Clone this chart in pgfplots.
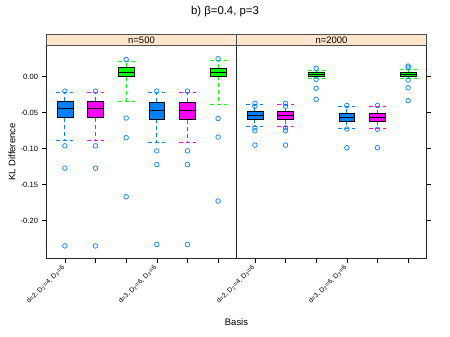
\documentclass[border=0pt]{standalone}
\usepackage{fontspec}
\setmainfont{Liberation Sans}
\usepackage{pgfplots}
\pgfplotsset{compat=1.18}
\usepgfplotslibrary{statistics}
\definecolor{cblue}{HTML}{0080FF}
\definecolor{cmag}{HTML}{FF00FF}
\definecolor{cgreen}{HTML}{00FF00}
\definecolor{outl}{HTML}{0080FF}
\definecolor{stripc}{HTML}{FFE5CC}

\tikzset{strip/.style={fill=stripc, draw=black!70, line width=0.7bp}}
\pgfplotsset{
  kbox/.style={draw=black, fill=#1, line width=0.7bp,
    mark=o, mark size=2.3bp, mark options={draw=outl, fill=none, solid, line width=0.7bp},
    boxplot/draw direction=y,
    boxplot/box extend=0.52, boxplot/whisker extend=0.56,
    boxplot/every whisker/.style={draw=#1, fill=none, dash pattern=on 4bp off 3bp, line width=0.8bp},
    boxplot/every median/.style={draw=black, line width=1bp}},
  panel/.style={anchor=south west, scale only axis, width=190bp, height=212.6bp,
    xmin=0.4, xmax=6.6, ymin=-0.2522, ymax=0.0431,
    xtick={1,2,3,4,5,6},
    xticklabels={{d=2, D\textsubscript{2}=4, D\textsubscript{3}=6},,,{d=3, D\textsubscript{2}=6, D\textsubscript{3}=6},,},
    x tick label style={font=\fontsize{6.8}{7}\selectfont, rotate=45, anchor=east, yshift=-1.5bp},
    ytick={-0.2,-0.15,-0.1,-0.05,0},
    y tick label style={font=\fontsize{7.6}{9}\selectfont},
    xtick pos=bottom, tick align=outside, major tick length=5bp,
    tick style={black, line width=0.6bp},
    axis line style={black!85, line width=0.8bp},
    clip=false},
}

\begin{document}
\begin{tikzpicture}
\path[use as bounding box] (0,0) rectangle (450bp,-337bp);

\begin{axis}[panel, at={(46.5bp,-258.3bp)}, ytick pos=left,
  yticklabels={-0.20,-0.15,-0.10,-0.05,0.00}]
\draw[strip] (axis description cs:0,1) rectangle ([yshift=11.7bp]axis description cs:1,1);
\node[font=\fontsize{9.5}{11}\selectfont] at ([yshift=5.85bp]axis description cs:0.5,1) {n=500};
\addplot[kbox=cblue, boxplot prepared={draw position=1, lower whisker=-0.088, lower quartile=-0.0569, median=-0.0439, upper quartile=-0.0338, upper whisker=-0.0213}]
  coordinates {(1,-0.020) (1,-0.096) (1,-0.127) (1,-0.235)};
\addplot[kbox=cmag, boxplot prepared={draw position=2, lower whisker=-0.088, lower quartile=-0.057, median=-0.044, upper quartile=-0.034, upper whisker=-0.0213}]
  coordinates {(2,-0.020) (2,-0.096) (2,-0.127) (2,-0.235)};
\addplot[kbox=cgreen, boxplot prepared={draw position=3, lower whisker=-0.0347, lower quartile=0.000, median=0.006, upper quartile=0.013, upper whisker=0.0214}]
  coordinates {(3,0.024) (3,-0.0574) (3,-0.0847) (3,-0.1667)};
\addplot[kbox=cblue, boxplot prepared={draw position=4, lower whisker=-0.0911, lower quartile=-0.0592, median=-0.0467, upper quartile=-0.0356, upper whisker=-0.0222}]
  coordinates {(4,-0.020) (4,-0.103) (4,-0.122) (4,-0.233)};
\addplot[kbox=cmag, boxplot prepared={draw position=5, lower whisker=-0.0911, lower quartile=-0.0595, median=-0.047, upper quartile=-0.0356, upper whisker=-0.0222}]
  coordinates {(5,-0.020) (5,-0.103) (5,-0.122) (5,-0.233)};
\addplot[kbox=cgreen, boxplot prepared={draw position=6, lower whisker=-0.0384, lower quartile=0.0005, median=0.006, upper quartile=0.0117, upper whisker=0.022}]
  coordinates {(6,0.025) (6,-0.058) (6,-0.0838) (6,-0.1726)};
\end{axis}

\begin{axis}[panel, at={(236.5bp,-258.3bp)}, ytick pos=right,
  yticklabels={,,,,}]
\draw[strip] (axis description cs:0,1) rectangle ([yshift=11.7bp]axis description cs:1,1);
\node[font=\fontsize{9.5}{11}\selectfont] at ([yshift=5.85bp]axis description cs:0.5,1) {n=2000};
\addplot[kbox=cblue, boxplot prepared={draw position=1, lower whisker=-0.0694, lower quartile=-0.0592, median=-0.0537, upper quartile=-0.048, upper whisker=-0.0389}]
  coordinates {(1,-0.037) (1,-0.041) (1,-0.071) (1,-0.075) (1,-0.095)};
\addplot[kbox=cmag, boxplot prepared={draw position=2, lower whisker=-0.0694, lower quartile=-0.0595, median=-0.054, upper quartile=-0.0485, upper whisker=-0.0389}]
  coordinates {(2,-0.037) (2,-0.041) (2,-0.071) (2,-0.075) (2,-0.095)};
\addplot[kbox=cgreen, boxplot prepared={draw position=3, lower whisker=-0.0018, lower quartile=0.001, median=0.0037, upper quartile=0.006, upper whisker=0.0089}]
  coordinates {(3,0.0117) (3,-0.0036) (3,-0.016) (3,-0.0314)};
\addplot[kbox=cblue, boxplot prepared={draw position=4, lower whisker=-0.0713, lower quartile=-0.0615, median=-0.056, upper quartile=-0.0509, upper whisker=-0.0407}]
  coordinates {(4,-0.040) (4,-0.0726) (4,-0.0986)};
\addplot[kbox=cmag, boxplot prepared={draw position=5, lower whisker=-0.0713, lower quartile=-0.062, median=-0.0572, upper quartile=-0.0515, upper whisker=-0.0407}]
  coordinates {(5,-0.040) (5,-0.073) (5,-0.0986)};
\addplot[kbox=cgreen, boxplot prepared={draw position=6, lower whisker=-0.0028, lower quartile=0.0005, median=0.0033, upper quartile=0.0056, upper whisker=0.0098}]
  coordinates {(6,0.0148) (6,0.0125) (6,-0.0046) (6,-0.0153) (6,-0.0333)};
\end{axis}

\node[font=\fontsize{11.4}{13}\selectfont] at (225bp,-12bp) {b) β=0.4, p=3};
\node[font=\fontsize{9.5}{11}\selectfont] at (236.5bp,-322bp) {Basis};
\node[font=\fontsize{9.5}{11}\selectfont, rotate=90] at (12bp,-152bp) {KL Difference};
\end{tikzpicture}
\end{document}
